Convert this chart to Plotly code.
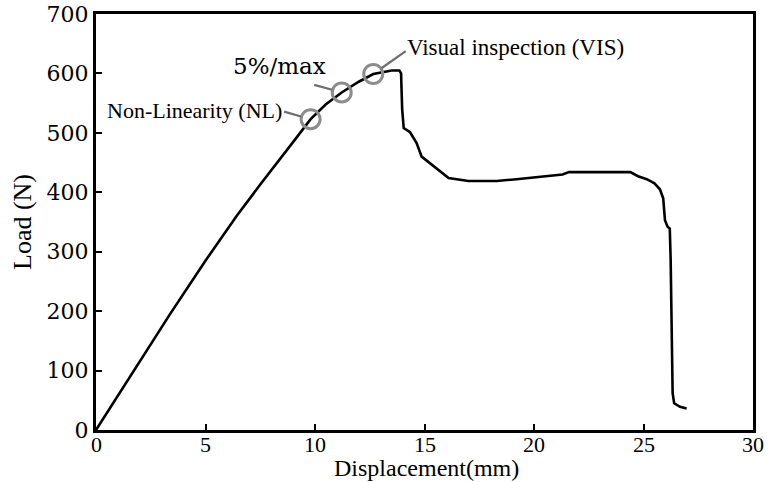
import plotly.graph_objects as go

# Load-displacement curve
disp_mm = [0, 1.0, 2.0, 3.38, 5.02, 6.42, 7.5, 8.55, 9.2, 9.8, 10.5, 11.22, 12.0, 12.66, 13.2, 13.5,
           13.85, 13.93, 13.98, 14.05, 14.34, 14.64, 14.87, 15.25, 15.7, 16.1, 17.0, 18.3, 19.2,
           20.3, 21.3, 21.6, 24.4, 24.75, 25.15, 25.5, 25.75, 25.9, 25.98, 26.1, 26.2, 26.24,
           26.33, 26.4, 26.67, 26.97]
load_n = [0, 58, 116, 195, 286, 360, 413, 462, 494, 523, 548, 568, 586, 599, 603, 605,
          605, 600, 540, 508, 501, 483, 460, 449, 435, 424, 419, 419, 422,
          426, 430, 434, 434, 427, 422, 415, 405, 390, 353, 342, 339, 286,
          62, 45, 39, 36]

# Characteristic points
point_names = ["Non-Linearity (NL)", "5%/max", "Visual inspection (VIS)"]
point_x = [9.8, 11.22, 12.66]
point_y = [523, 568, 599]

x_ticks = [0, 5, 10, 15, 20, 25, 30]
x_tick_labels = ["0", "5", "10", "15", "20", "25", "30"]
y_ticks = [0, 100, 200, 300, 400, 500, 600, 700]

fig = go.Figure()
fig.add_trace(go.Scatter(x=disp_mm, y=load_n, mode="lines",
                         line=dict(color="black", width=2.6), showlegend=False))
fig.add_trace(go.Scatter(x=point_x, y=point_y, mode="markers", showlegend=False,
                         marker=dict(symbol="circle-open", size=19,
                                     line=dict(color="#8c8c8c", width=3),
                                     color="#8c8c8c")))

gray = "#6e6e6e"
# leader lines (offset in px)
leaders = [(-28, 8), (-29, 8), (34, 24)]
for (px, py, (dx, dy)) in zip(point_x, point_y, leaders):
    fig.add_annotation(x=px, y=py, xref="x", yref="y", text="", showarrow=True,
                       arrowhead=0, arrowwidth=2.2, arrowcolor=gray,
                       ax=dx, ay=-dy, standoff=10)

fig.add_annotation(x=point_x[0], y=point_y[0], text=point_names[0], showarrow=False,
                   xanchor="right", yanchor="middle", xshift=-27, yshift=9,
                   font=dict(family="Liberation Serif", size=22, color="black"))
fig.add_annotation(x=point_x[1], y=point_y[1], text=point_names[1], showarrow=False,
                   xanchor="center", yanchor="middle", xshift=-62, yshift=26,
                   font=dict(family="DejaVu Serif", size=23, color="black"))
fig.add_annotation(x=point_x[2], y=point_y[2], text=point_names[2], showarrow=False,
                   xanchor="left", yanchor="middle", xshift=32, yshift=27,
                   font=dict(family="Liberation Serif", size=23, color="black"))

# x tick labels set close under the axis, as in the reference
for v, lab in zip(x_ticks, x_tick_labels):
    fig.add_annotation(x=v, y=0, xref="x", yref="paper", text=lab, showarrow=False,
                       xanchor="center", yanchor="top", yshift=-1, borderpad=0,
                       font=dict(family="Liberation Serif", size=22, color="black"))

# x-axis title placed just under the tick labels
fig.add_annotation(x=0.503, y=0, xref="paper", yref="paper", text="Displacement(mm)",
                   showarrow=False, xanchor="center", yanchor="bottom", yshift=-52,
                   borderpad=0,
                   font=dict(family="Liberation Serif", size=24, color="black"))

fig.update_xaxes(range=[0, 30], tickvals=x_ticks, ticks="inside", ticklen=6, tickwidth=2,
                 tickcolor="black", showline=True, linewidth=3, linecolor="black",
                 mirror=True, showgrid=False, zeroline=False, automargin=False,
                 showticklabels=False)
fig.update_yaxes(range=[0, 700], tickvals=y_ticks, ticks="inside", ticklen=6, tickwidth=2,
                 tickcolor="black", showline=True, linewidth=3, linecolor="black",
                 mirror=True, showgrid=False, zeroline=False, automargin=False,
                 tickfont=dict(family="DejaVu Serif", size=22, color="black"),
                 title=dict(text="Load (N)", standoff=8,
                            font=dict(family="Liberation Serif", size=26, color="black")))

fig.update_layout(width=773, height=482, margin=dict(l=96, r=20, t=14, b=52),
                  plot_bgcolor="white", paper_bgcolor="white")

fig.write_html("out.html")
